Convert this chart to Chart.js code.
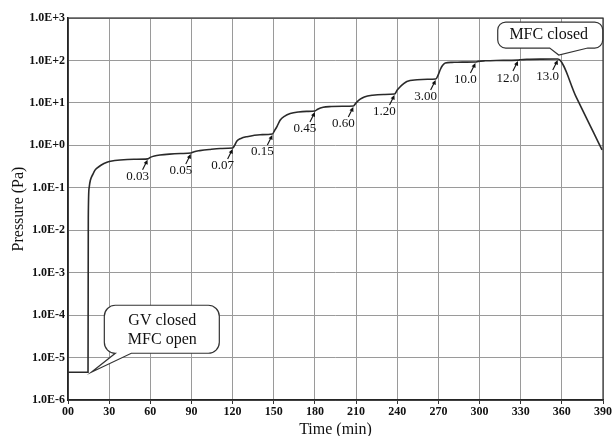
<!DOCTYPE html>
<html><head><meta charset="utf-8">
<script src="https://cdn.jsdelivr.net/npm/chart.js@4/dist/chart.umd.min.js"></script>
<style>html,body{margin:0;padding:0;background:#fff;}#wrap{width:615px;height:436px;}</style>
</head><body><div id="wrap"><canvas id="c" width="615" height="436"></canvas></div>
<script>
// ---- data ----
const times = [0,14.6,14.8,15.4,16.3,18.2,19.7,21.1,24,28.4,31,38,48,58,
  60,63,67,74,82,89.5,
  92,96,103,111,120,
  121.5,123,126,130.5,140,149,
  150.5,152.4,154.6,158,162,168,174,180,
  182,186,192,200,208,
  210,213,216,222,230,238,
  240,242,244.5,247,254.5,262,268,
  269.8,271.5,273,275,280,284,297,
  299,304,312,328,
  330,335,345,357,
  370.4,378.4,382.8,389.3];
const pressures = [4.5e-6,4.5e-6,0.02,0.1,0.15,0.21,0.26,0.29,0.34,0.40,0.42,0.45,0.47,0.48,
  0.52,0.56,0.59,0.62,0.64,0.66,
  0.71,0.75,0.80,0.84,0.865,
  1.0,1.25,1.45,1.6,1.78,1.85,
  2.2,2.8,3.9,4.9,5.6,6.1,6.3,6.45,
  7.1,7.9,8.2,8.35,8.45,
  10,12.2,13.8,15.2,15.8,16.2,
  20,23.7,28,32,35,36,36.5,
  45,62,76,87,90,91,92,
  95,98,100,102,
  104,106,107.5,108,
  13.9,4.1,2.1,0.78];
const xTickLabels = ['00','30','60','90','120','150','180','210','240','270','300','330','360','390'];
const yTickLabels = ['1.0E-6','1.0E-5','1.0E-4','1.0E-3','1.0E-2','1.0E-1','1.0E+0','1.0E+1','1.0E+2','1.0E+3'];
const stepTimes = [58,89.5,120,149,180,208,238,268,297,328,357];
const stepPressures = [0.48,0.66,0.865,1.85,6.45,8.45,16.2,36.5,92,102,108];
const stepLabels = ['0.03','0.05','0.07','0.15','0.45','0.60','1.20','3.00','10.0','12.0','13.0'];
const calloutTexts = [['GV closed','MFC open'],['MFC closed']];
const calloutTimes = [17,357];
const calloutPressures = [4.5e-6,108];

const SERIF = '"Liberation Serif", "Times New Roman", serif';

function calloutPath(ctx,x0,y0,x1,y1,r,ta,tb,tx,ty){
  ctx.beginPath();
  ctx.moveTo(x0+r,y0);
  ctx.lineTo(x1-r,y0);
  ctx.arcTo(x1,y0,x1,y0+r,r);
  ctx.lineTo(x1,y1-r);
  ctx.arcTo(x1,y1,x1-r,y1,r);
  ctx.lineTo(tb,y1);
  ctx.lineTo(tx,ty);
  ctx.lineTo(ta,y1);
  ctx.lineTo(x0+r,y1);
  ctx.arcTo(x0,y1,x0,y1-r,r);
  ctx.lineTo(x0,y0+r);
  ctx.arcTo(x0,y0,x0+r,y0,r);
  ctx.closePath();
}

const annot = {
  id:'annot',
  afterDatasetsDraw(chart){
    const ctx = chart.ctx, xs = chart.scales.x, ys = chart.scales.y, ca = chart.chartArea;
    ctx.save();
    ctx.strokeStyle = '#333'; ctx.lineWidth = 1.2;
    ctx.strokeRect(ca.left, ca.top, ca.right-ca.left, ca.bottom-ca.top);
    ctx.font = '13px ' + SERIF; ctx.fillStyle = '#111'; ctx.strokeStyle = '#111';
    ctx.textAlign = 'center'; ctx.textBaseline = 'middle';
    stepTimes.forEach((t,i)=>{
      const px = xs.getPixelForValue(t), py = ys.getPixelForValue(stepPressures[i]);
      ctx.fillText(stepLabels[i], px-10, py+18);
      const sx = px-5, sy = py+11;
      ctx.lineWidth = 1.1;
      ctx.beginPath(); ctx.moveTo(sx,sy); ctx.lineTo(px-1,py+3); ctx.stroke();
      const ang = Math.atan2(py-sy, px-sx);
      ctx.beginPath();
      ctx.moveTo(px,py+1);
      ctx.lineTo(px-5*Math.cos(ang-0.45), py+1-5*Math.sin(ang-0.45));
      ctx.lineTo(px-5*Math.cos(ang+0.45), py+1-5*Math.sin(ang+0.45));
      ctx.closePath(); ctx.fill();
    });
    ctx.lineWidth = 1.2; ctx.strokeStyle = '#333';
    let tx = xs.getPixelForValue(calloutTimes[0]), ty = ys.getPixelForValue(calloutPressures[0]);
    calloutPath(ctx, tx+13, ty-67, tx+128, ty-19, 11, tx+24, tx+40, tx, ty);
    ctx.fillStyle = '#fff'; ctx.fill(); ctx.stroke();
    ctx.fillStyle = '#111'; ctx.font = '16px ' + SERIF;
    ctx.fillText(calloutTexts[0][0], tx+71, ty-51);
    ctx.fillText(calloutTexts[0][1], tx+71, ty-32);
    tx = xs.getPixelForValue(calloutTimes[1]); ty = ys.getPixelForValue(calloutPressures[1]);
    calloutPath(ctx, tx-60, ty-37, tx+45, ty-11, 8, tx-8, tx+30, tx+1, ty-4);
    ctx.fillStyle = '#fff'; ctx.fill(); ctx.stroke();
    ctx.fillStyle = '#111';
    ctx.fillText(calloutTexts[1][0], tx-9, ty-24);
    ctx.restore();
  }
};

new Chart(document.getElementById('c'), {
  type:'line',
  data:{datasets:[{
    data: times.map((t,i)=>({x:t,y:pressures[i]})),
    borderColor:'#2a2a2a', borderWidth:1.6, pointRadius:0,
    cubicInterpolationMode:'monotone', fill:false
  }]},
  options:{
    responsive:false, animation:false, devicePixelRatio:1,
    layout:{padding:{left:0,right:12,top:18,bottom:0}},
    plugins:{legend:{display:false}, tooltip:{enabled:false}},
    scales:{
      x:{type:'linear', min:0, max:390,
        ticks:{stepSize:30, maxRotation:0, autoSkip:false, padding:1, color:'#111',
          font:{family:SERIF, size:12, weight:'bold'},
          callback:(v)=>xTickLabels[Math.round(v/30)]},
        grid:{color:'#9a9a9a', lineWidth:1, tickLength:4, tickColor:'#333'},
        border:{color:'#111', width:1.5},
        title:{display:true, text:'Time (min)', color:'#111', font:{family:SERIF, size:16}, padding:{top:0,bottom:-3}},
        afterFit:(s)=>{s.height=36;}
      },
      y:{type:'logarithmic', min:1e-6, max:1e3,
        afterBuildTicks:(s)=>{s.ticks = yTickLabels.map(l=>({value:parseFloat(l)}));},
        ticks:{padding:3, color:'#111', autoSkip:false,
          font:{family:SERIF, size:12, weight:'bold'},
          callback:(v,i)=>yTickLabels[i]},
        grid:{color:'#9a9a9a', lineWidth:1, drawTicks:false},
        border:{color:'#111', width:1.5},
        title:{display:true, text:'Pressure (Pa)', color:'#111', font:{family:SERIF, size:16}, padding:{top:9,bottom:4}},
        afterFit:(s)=>{s.width=68;}
      }
    }
  },
  plugins:[annot]
});
</script></body></html>
